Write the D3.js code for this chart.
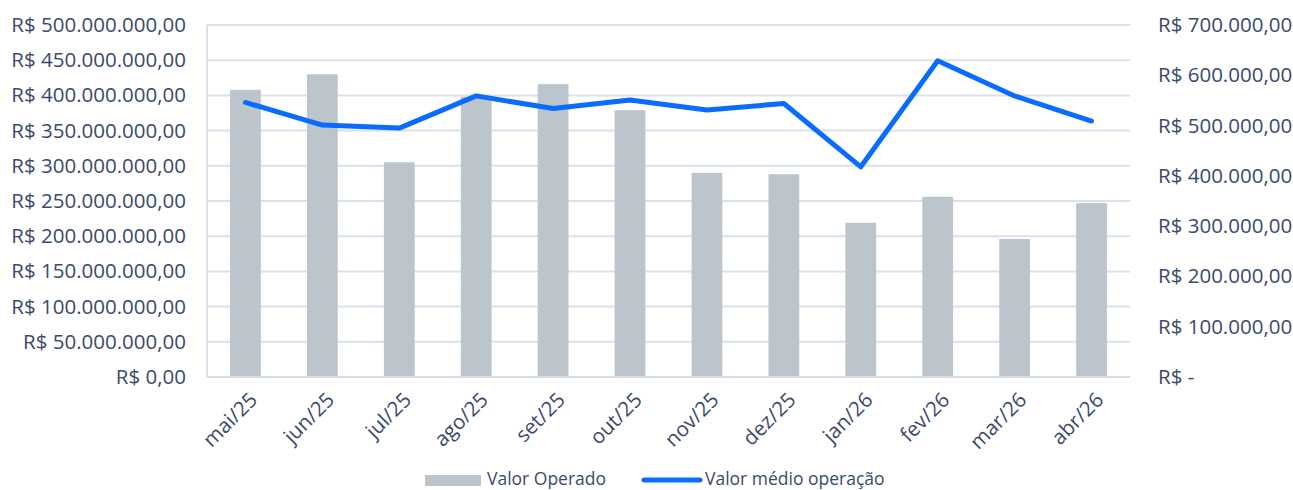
<!DOCTYPE html>
<html>
<head>
<meta charset="utf-8">
<title>Valor Operado x Valor médio operação</title>
<script src="https://d3js.org/d3.v7.min.js"></script>
<style>
    body { margin: 0; background: #fff; }
    text { font-family: "Open Sans", sans-serif; fill: #3a4a6e; }
</style>
</head>
<body>
<div id="chart"></div>
<script>
    // data
    const months = ["mai/25", "jun/25", "jul/25", "ago/25", "set/25", "out/25",
                    "nov/25", "dez/25", "jan/26", "fev/26", "mar/26", "abr/26"];
    const valorOperado = [408e6, 430e6, 305e6, 398e6, 416e6, 379e6,
                          290e6, 288e6, 219e6, 256e6, 196e6, 247e6];
    const valorMedio = [546e3, 501e3, 495e3, 559e3, 534e3, 551e3,
                        531e3, 544e3, 418e3, 629e3, 559e3, 509e3];
    const leftTicks = d3.range(0, 500e6 + 1, 50e6);
    const rightTicks = d3.range(0, 700e3 + 1, 100e3);

    const width = 1293, height = 490;
    const margin = { top: 25, right: 163, bottom: 113, left: 207 };

    const svg = d3.select("#chart").append("svg")
        .attr("width", width)
        .attr("height", height);

    const x = d3.scaleBand()
        .domain(months)
        .range([margin.left, width - margin.right])
        .paddingInner(0.6)
        .paddingOuter(0.3);

    const y = d3.scaleLinear()
        .domain([0, 500e6])
        .range([height - margin.bottom, margin.top]);

    const y2 = d3.scaleLinear()
        .domain([0, 700e3])
        .range([height - margin.bottom, margin.top]);

    // pt-BR currency
    const fmt = (v) => {
        const s = d3.format(",.2f")(v);
        return "R$ " + s.replace(/,/g, "#").replace(".", ",").replace(/#/g, ".");
    };

    // gridlines
    svg.append("g")
        .selectAll("line")
        .data(leftTicks.slice(1))
        .join("line")
        .attr("x1", margin.left)
        .attr("x2", width - margin.right)
        .attr("y1", d => y(d))
        .attr("y2", d => y(d))
        .attr("stroke", "#d9e1ee")
        .attr("stroke-width", 2);

    // bars
    svg.append("g")
        .selectAll("rect")
        .data(valorOperado)
        .join("rect")
        .attr("x", (d, i) => x(months[i]))
        .attr("y", d => y(d))
        .attr("width", x.bandwidth())
        .attr("height", d => y(0) - y(d))
        .attr("fill", "#bcc5cc");

    // axis lines (left + bottom)
    svg.append("line")
        .attr("x1", margin.left).attr("x2", margin.left)
        .attr("y1", y(500e6)).attr("y2", y(0))
        .attr("stroke", "#d9e1ee").attr("stroke-width", 2);
    svg.append("line")
        .attr("x1", margin.left).attr("x2", width - margin.right)
        .attr("y1", y(0)).attr("y2", y(0))
        .attr("stroke", "#d6dde9").attr("stroke-width", 2);

    // line
    const line = d3.line()
        .x((d, i) => x(months[i]) + x.bandwidth() / 2)
        .y(d => y2(d));

    svg.append("path")
        .datum(valorMedio)
        .attr("fill", "none")
        .attr("stroke", "#0a6cff")
        .attr("stroke-width", 5)
        .attr("stroke-linecap", "round")
        .attr("stroke-linejoin", "round")
        .attr("d", line);

    // left axis
    const leftAxis = svg.append("g")
        .attr("transform", `translate(${margin.left - 21},0)`)
        .call(d3.axisLeft(y).tickValues(leftTicks).tickSize(0).tickPadding(0)
            .tickFormat(d => fmt(d)));
    leftAxis.select(".domain").remove();
    leftAxis.selectAll("text")
        .style("font-size", "20.5px")
        .style("fill", "#3a4a6e");

    // right axis
    const rightAxis = svg.append("g")
        .attr("transform", `translate(${width - margin.right + 28},0)`)
        .call(d3.axisRight(y2).tickValues(rightTicks).tickSize(0).tickPadding(0)
            .tickFormat(d => d === 0 ? "R$ -" : fmt(d)));
    rightAxis.select(".domain").remove();
    rightAxis.selectAll("text")
        .style("font-size", "20.5px")
        .style("fill", "#3a4a6e");

    // x axis labels
    const xAxis = svg.append("g")
        .attr("transform", `translate(0,${y(0) + 14})`)
        .call(d3.axisBottom(x).tickSize(0).tickPadding(0));
    xAxis.select(".domain").remove();
    xAxis.selectAll("text")
        .attr("text-anchor", "end")
        .attr("dy", "0.7em")
        .attr("transform", "translate(3,0) rotate(-45)")
        .style("font-size", "20.5px")
        .style("fill", "#3a4a6e");

    // legend
    const legend = svg.append("g");
    legend.append("rect")
        .attr("x", 425).attr("y", 475)
        .attr("width", 56).attr("height", 11)
        .attr("fill", "#bcc5cc");
    legend.append("text")
        .attr("x", 487).attr("y", 480)
        .attr("dominant-baseline", "middle")
        .style("font-size", "17.5px")
        .text("Valor Operado");
    legend.append("line")
        .attr("x1", 644).attr("x2", 700)
        .attr("y1", 480).attr("y2", 480)
        .attr("stroke", "#0a6cff")
        .attr("stroke-width", 5)
        .attr("stroke-linecap", "round");
    legend.append("text")
        .attr("x", 705).attr("y", 480)
        .attr("dominant-baseline", "middle")
        .style("font-size", "17.5px")
        .text("Valor médio operação");
</script>
</body>
</html>
